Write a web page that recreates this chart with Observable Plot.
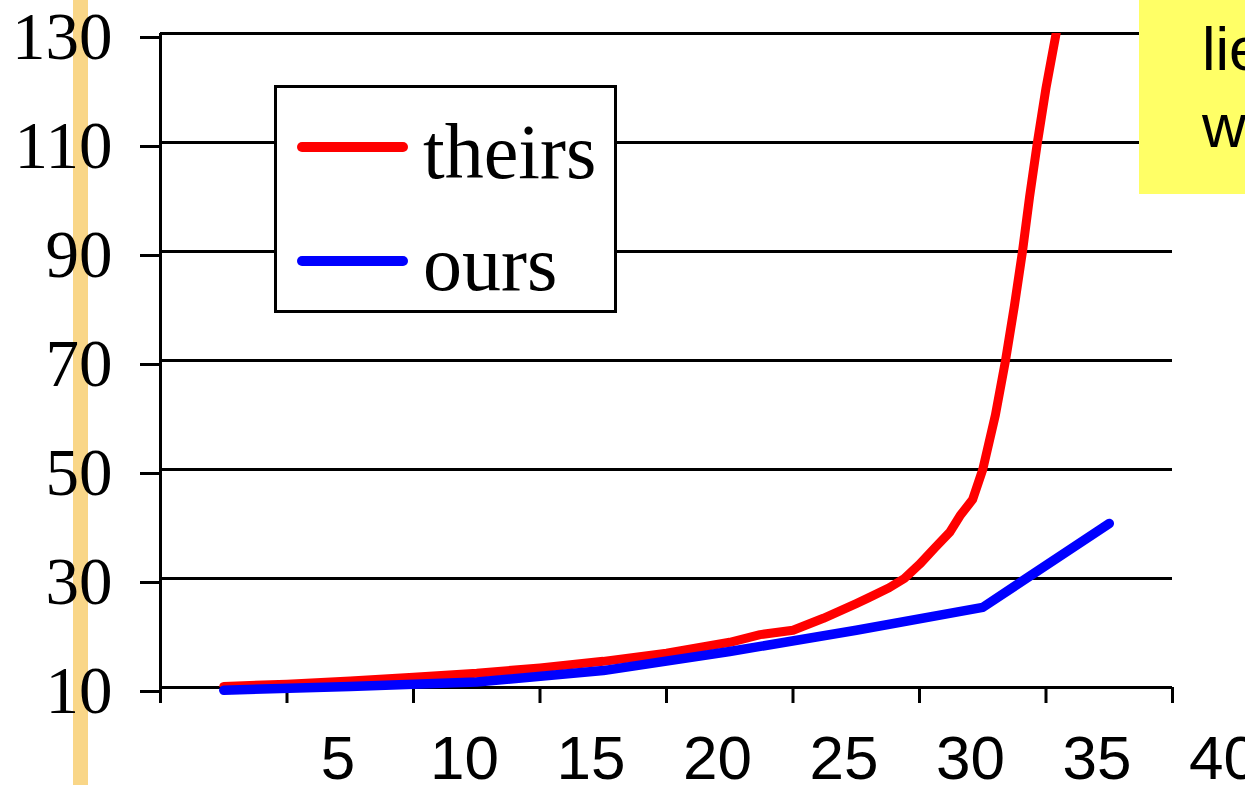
<!DOCTYPE html>
<html>
<head>
<meta charset="utf-8">
<script src="https://cdn.jsdelivr.net/npm/d3@7"></script>
<script src="https://cdn.jsdelivr.net/npm/@observablehq/plot@0.6"></script>
<style>
  html, body { margin: 0; padding: 0; background: #fff; }
  #wrap { position: relative; width: 1245px; height: 785px; overflow: hidden; background: #fff; }
  #bar { position: absolute; left: 73px; top: 0; width: 15px; height: 785px; background: #f9d688; }
  #chart { position: absolute; left: 0; top: 0; }
  #overlay { position: absolute; left: 0; top: 0; }
</style>
</head>
<body>
<div id="wrap">
  <div id="bar"></div>
  <div id="chart"></div>
  <svg id="overlay" width="1245" height="785">
    <rect x="275.5" y="86.5" width="340" height="225" fill="#fff" stroke="#000" stroke-width="3"></rect>
    <line x1="302" y1="147" x2="403" y2="147" stroke="#ff0000" stroke-width="10" stroke-linecap="round"></line>
    <line x1="302" y1="261" x2="403" y2="261" stroke="#0000ff" stroke-width="10" stroke-linecap="round"></line>
    <text x="423" y="178" font-family="Liberation Serif" font-size="78" fill="#000">theirs</text>
    <text x="423" y="290" font-family="Liberation Serif" font-size="78" fill="#000">ours</text>
    <rect x="1139" y="0" width="110" height="194" fill="#ffff66"></rect>
    <text x="1202" y="70" font-family="Liberation Sans" font-size="61" fill="#000">lie</text>
    <text x="1202" y="147" font-family="Liberation Sans" font-size="61" fill="#000">w</text>
  </svg>
</div>
<script>
// Series values
const theirsX = [2.5, 5, 7.5, 10, 12.5, 15, 17.5, 20, 22.5, 23.7, 25, 26.2, 27.5, 28.0, 28.8, 29.4, 30.0, 30.6, 31.2, 31.6, 32.1, 32.5, 33.0, 33.4, 33.75, 34.07, 34.35, 34.66, 35.0, 35.4, 35.6];
const theirsY = [10.2, 10.6, 11.2, 11.9, 12.6, 13.6, 14.8, 16.3, 18.3, 19.7, 20.5, 22.7, 25.4, 26.5, 28.3, 30.0, 32.6, 35.6, 38.5, 41.5, 44.5, 50, 60, 70, 80, 90, 100, 110, 120, 130, 134];
const oursX = [2.5, 7.5, 12.5, 17.5, 22.5, 27.5, 32.5, 37.5];
const oursY = [9.5, 10.2, 11.0, 13.1, 16.6, 20.5, 24.7, 40.1];

// Axis ticks
const yTicks = [10, 30, 50, 70, 90, 110, 130];
const xTicks = [0, 5, 10, 15, 20, 25, 30, 35, 40];
const xLabels = [5, 10, 15, 20, 25, 30, 35, 40];

const theirs = theirsX.map((x, i) => ({x, y: theirsY[i]}));
const ours = oursX.map((x, i) => ({x, y: oursY[i]}));

const chart = Plot.plot({
  width: 1245,
  height: 785,
  marginLeft: 160,
  marginRight: 73,
  marginTop: 33,
  marginBottom: 98,
  style: {background: "transparent", color: "#000", overflow: "visible"},
  x: {domain: [0, 40], axis: null},
  y: {domain: [10, 130], axis: null},
  marks: [
    Plot.gridY(yTicks, {stroke: "#000", strokeOpacity: 1, strokeWidth: 3}),
    Plot.axisY({ticks: yTicks, tickSize: 20, tickPadding: 28, strokeWidth: 3, stroke: "#000",
      fontSize: 67, fontFamily: "Liberation Serif", fill: "#000", dy: 4, label: null}),
    Plot.ruleX([0], {y1: 10, y2: 130, stroke: "#000", strokeWidth: 3}),
    Plot.axisX({ticks: xTicks, tickSize: 16, tickFormat: () => "", strokeWidth: 3, stroke: "#000", label: null}),
    Plot.axisX({ticks: xLabels, tickSize: 0, tickPadding: 47, dx: 51,
      fontSize: 62, fontFamily: "Liberation Sans", fill: "#000", label: null}),
    Plot.line(theirs, {x: "x", y: "y", stroke: "#ff0000", strokeWidth: 9,
      strokeLinecap: "round", strokeLinejoin: "round", clip: true}),
    Plot.line(ours, {x: "x", y: "y", stroke: "#0000ff", strokeWidth: 9.5,
      strokeLinecap: "round", strokeLinejoin: "round"})
  ]
});
document.getElementById("chart").appendChild(chart);
</script>
</body>
</html>
